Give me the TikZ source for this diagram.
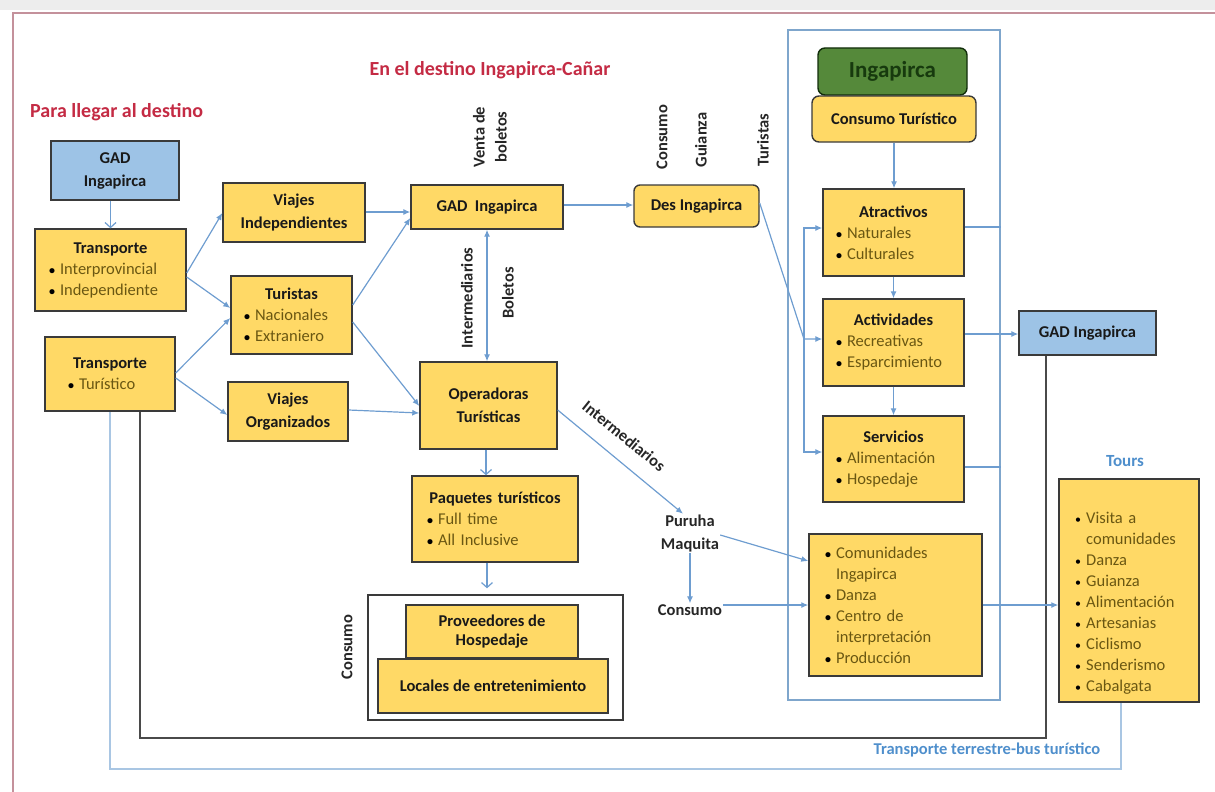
\documentclass[tikz,border=0pt]{standalone}
\usepackage{fontspec}
\setmainfont{Carlito}
\usetikzlibrary{arrows.meta}
\definecolor{yfill}{HTML}{FFD966}
\definecolor{bline}{HTML}{3A3A3A}
\definecolor{bfill}{HTML}{9DC3E6}
\definecolor{arrowc}{HTML}{6E9DD0}
\definecolor{olivetx}{HTML}{6A5712}
\definecolor{redtx}{HTML}{C42B44}
\definecolor{bluetx}{HTML}{4F8FCC}
\definecolor{gfill}{HTML}{55893A}
\definecolor{gtext}{HTML}{173A0E}
\definecolor{framec}{HTML}{C4919B}
\definecolor{lblue}{HTML}{A9C6E3}
\definecolor{rline}{HTML}{7FA6CC}
\definecolor{dline}{HTML}{4A4A4A}
\newcommand\hd[1]{{\centering\bfseries #1\par}}
\newcommand\nl{\hfil\break}
\newcommand\bi[1]{\hangindent=12pt\hangafter=1\noindent\makebox[12pt][l]{\hspace{1pt}\color{black}\fontsize{12}{12}\selectfont•}{\mdseries\color{olivetx}#1}\par}
\tikzset{
  ybox/.style={draw=bline, line width=1.4pt, fill=yfill, inner sep=0pt, text=black!90,
    font=\fontsize{16.5}{21}\selectfont\bfseries},
  cbox/.style={ybox, align=center, font=\fontsize{16.5}{23}\selectfont\bfseries},
  bbox/.style={cbox, fill=bfill},
  lbl/.style={font=\fontsize{16.5}{22}\selectfont\bfseries, inner sep=1pt, text=black!85},
  ttl/.style={font=\fontsize{20}{24}\selectfont\bfseries, inner sep=0pt, text=redtx},
  arw/.style={draw=arrowc, line width=1.2pt, -{Latex[length=7pt,width=6pt]}},
  oarw/.style={draw=arrowc, line width=1.2pt, -{Straight Barb[length=5pt,width=11pt]}},
  aline/.style={draw=arrowc, line width=1.2pt},
}
\begin{document}
\begin{tikzpicture}[x=1pt,y=-1pt]
\useasboundingbox (0,0) rectangle (1215,792);
\fill[black!7] (0,0) rectangle (1215,10);
\draw[framec, line width=1.8pt] (13,792) -- (13,13) -- (1215,13);

% titles
\node[ttl, anchor=base west] (t1) at (30,117) {Para llegar al destino};
\node[ttl, anchor=base] (t2) at (490,76) {En el destino Ingapirca-Cañar};

% long background lines
\draw[lblue, line width=1.4pt] (1121,702) coordinate (tb) -- (1121,769) -- (110,769) -- (110,411) coordinate (tt1);
\draw[dline, line width=1.6pt] (1046,355) coordinate (gb) -- (1046,738) -- (140,738) -- (140,411) coordinate (tt2);

% big right frame
\node[draw=rline, line width=1.3pt, minimum width=212pt, minimum height=670pt, inner sep=0pt] (bigR) at (894,365) {};

% left column
\node[bbox, minimum width=128pt, minimum height=59pt] (gadL) at (115,170.5) {GAD\\Ingapirca};
\node[ybox, minimum width=151pt, minimum height=82pt, text width=125pt, inner xsep=13pt] (tI) at (110.5,270)
  {\hd{Transporte}\bi{Interprovincial}\bi{Independiente}};
\node[ybox, minimum width=130pt, minimum height=74pt, text width=86pt, inner xsep=22pt] (tT) at (110,374)
  {\hd{Transporte}\bi{Turístico}};
\node[cbox, minimum width=142pt, minimum height=59pt] (vI) at (294,212.5) {Viajes\\Independientes};
\node[ybox, minimum width=121pt, minimum height=78pt, text width=97pt, inner xsep=12pt] (tur) at (291.5,315)
  {\hd{Turistas}\bi{Nacionales}\bi{Extraniero}};
\node[cbox, minimum width=120pt, minimum height=59pt] (vO) at (288,411.5) {Viajes\\Organizados};

% middle
\node[cbox, minimum width=152pt, minimum height=44pt] (gadM) at (487,207) {GAD\ \ Ingapirca};
\node[cbox, rounded corners=6pt, minimum width=125pt, minimum height=42pt] (des) at (696.5,206) {Des Ingapirca};
\node[cbox, minimum width=137pt, minimum height=87pt] (ope) at (488.5,405.5) {Operadoras\\Turísticas};
\node[ybox, minimum width=166pt, minimum height=86pt, text width=138pt, inner xsep=14pt] (paq) at (495,519)
  {\hd{Paquetes turísticos}\bi{Full time}\bi{All Inclusive}};
\node[draw=bline, line width=1.3pt, fill=white, minimum width=255pt, minimum height=125pt, inner sep=0pt] (cbx) at (495.5,657.5) {};
\node[cbox, font=\fontsize{16.5}{19}\selectfont\bfseries, minimum width=172pt, minimum height=53pt] (prov) at (492,631.5) {Proveedores de\\Hospedaje};
\node[cbox, minimum width=230pt, minimum height=54pt] (loc) at (493,686) {Locales de entretenimiento};

% right column
\node[draw=gtext!80!black, line width=1.4pt, fill=gfill, rounded corners=7pt, minimum width=149pt, minimum height=47pt,
  text=gtext, font=\fontsize{23}{26}\selectfont\bfseries] (ing) at (892.5,71.5) {Ingapirca};
\node[cbox, rounded corners=7pt, minimum width=164pt, minimum height=46pt] (ct) at (894,119) {Consumo Turístico};
\node[ybox, minimum width=141pt, minimum height=87pt, text width=117pt, inner xsep=12pt] (atr) at (893.5,232.5)
  {\hd{Atractivos}\bi{Naturales}\bi{Culturales}};
\node[ybox, minimum width=141pt, minimum height=87pt, text width=117pt, inner xsep=12pt] (act) at (893.5,342.5)
  {\hd{Actividades}\bi{Recreativas}\bi{Esparcimiento}};
\node[ybox, minimum width=141pt, minimum height=86pt, text width=117pt, inner xsep=12pt] (ser) at (893.5,459)
  {\hd{Servicios}\bi{Alimentación}\bi{Hospedaje}};
\node[bbox, minimum width=137pt, minimum height=44pt] (gadR) at (1087.5,333) {GAD Ingapirca};
\node[ybox, minimum width=173pt, minimum height=142pt, text width=143pt, inner xsep=15pt] (com) at (895.5,605)
  {\bi{Comunidades\nl Ingapirca}\bi{Danza}\bi{Centro de\nl interpretación}\bi{Producción}};
\node[ybox, minimum width=140pt, minimum height=223pt] (tours) at (1129,590.5) {};
\node[anchor=base west, inner sep=0pt, text width=112pt, font=\fontsize{16.5}{21}\selectfont] (toursL) at (1074,523)
  {\bi{Visita a\nl comunidades}\bi{Danza}\bi{Guianza}\bi{Alimentación}\bi{Artesanias}\bi{Ciclismo}\bi{Senderismo}\bi{Cabalgata}};

% labels
\node[lbl, rotate=90, align=center] (vta) at (490,137) {Venta de\\boletos};
\node[lbl, rotate=90] (lcons) at (662,137) {Consumo};
\node[lbl, rotate=90] (lguia) at (701,140) {Guianza};
\node[lbl, rotate=90] (ltur) at (763,140) {Turistas};
\node[lbl, rotate=90] (lint) at (467,298) {Intermediarios};
\node[lbl, rotate=90] (lbol) at (508,293) {Boletos};
\node[lbl, rotate=-39] (lint2) at (624,436) {Intermediarios};
\node[lbl, rotate=90] (lcons3) at (347,647) {Consumo};
\node[lbl, align=center, font=\fontsize{16.5}{23}\selectfont\bfseries] (pm) at (690,533.5) {Puruha\\Maquita};
\node[lbl] (cons2) at (690,610) {Consumo};
\node[lbl, text=bluetx, font=\fontsize{17}{20}\selectfont\bfseries] (toursH) at (1125,461) {Tours};
\node[lbl, text=bluetx] (ttb) at (987,750) {Transporte terrestre-bus turístico};

% connectors
\draw[oarw] (gadL.south -| tI.north) -- (tI.north);
\draw[arw] (tI.east |- 0,273) -- (vI.west |- 0,213);
\draw[arw] (tI.east |- 0,277) -- (tur.west |- 0,308);
\draw[arw] (tT.east |- 0,373) -- (tur.west |- 0,318);
\draw[arw] (tT.east |- 0,378) -- (vO.west |- 0,415);
\draw[arw] (vI.east |- 0,212) -- (gadM.west |- 0,212);
\draw[arw] (tur.east |- 0,305) -- (gadM.west |- 0,218);
\draw[arw] (tur.east |- 0,322) -- (ope.west |- 0,406);
\draw[arw] (vO.east |- 0,410) -- (ope.west |- 0,413);
\draw[arw, {Latex[length=7pt,width=6pt]}-{Latex[length=7pt,width=6pt]}] (gadM.south) -- (gadM.south |- ope.north);
\draw[arw] (gadM.east |- 0,205) -- (des.west |- 0,205);
\coordinate (br) at (804,339);
\draw[arw] (des.east |- 0,203) -- (br) -- (act.west |- br);
\draw[arw] (br) |- (atr.west |- 0,228);
\draw[arw] (br) |- (ser.west |- 0,452);
\draw[arw] (ct.south) -- (ct.south |- atr.north);
\draw[arw] (atr.south) -- (act.north);
\draw[arw] (act.south) -- (ser.north);
\draw[arw] (act.east |- 0,334) -- (gadR.west |- 0,334);
\draw[aline] (atr.east |- 0,227) -- (bigR.east |- 0,227);
\draw[aline] (ser.east |- 0,467) -- (bigR.east |- 0,467);
\draw[arw] (ope.east |- 0,410) -- ([xshift=-7pt]pm.north);
\draw[arw] (pm.east |- 0,535) -- (com.west |- 0,561);
\draw[arw] (pm.south) -- (cons2.north);
\draw[arw] (cons2.east |- 0,605) -- (com.west |- 0,605);
\draw[arw] (com.east |- 0,605) -- (tours.west |- 0,605);
\draw[oarw] (ope.south -| 486,0) -- (paq.north -| 486,0);
\draw[oarw, shorten >=6pt] (paq.south -| 487,0) -- (cbx.north -| 487,0);
\end{tikzpicture}
\end{document}
